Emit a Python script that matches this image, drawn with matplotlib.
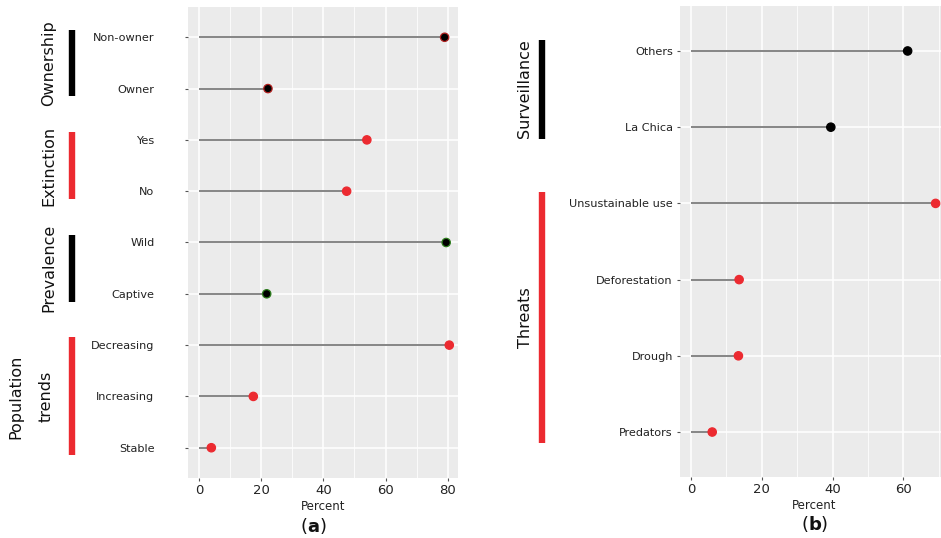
import matplotlib
matplotlib.use("Agg")
import matplotlib.pyplot as plt
from matplotlib.ticker import MultipleLocator
from matplotlib.transforms import blended_transform_factory

plt.rcParams['font.family'] = ['DejaVu Sans']
plt.rcParams['mathtext.fontset'] = 'dejavusans'

# ---- panel (a) data ----
a_labels = ["Non-owner", "Owner", "Yes", "No", "Wild", "Captive",
            "Decreasing", "Increasing", "Stable"]
a_values = [79.0, 22.2, 54.0, 47.5, 79.5, 21.8, 80.5, 17.5, 4.0]
a_groups = ["Ownership", "Ownership", "Extinction", "Extinction",
            "Prevalence", "Prevalence", "Population\ntrends",
            "Population\ntrends", "Population\ntrends"]

# ---- panel (b) data ----
b_labels = ["Others", "La Chica", "Unsustainable use", "Deforestation",
            "Drough", "Predators"]
b_values = [61.2, 39.5, 69.1, 13.6, 13.4, 6.0]
b_groups = ["Surveillance", "Surveillance", "Threats", "Threats",
            "Threats", "Threats"]

RED = "#EC2A30"
group_fill = {"Ownership": "black", "Extinction": RED, "Prevalence": "black",
              "Population\ntrends": RED, "Surveillance": "black", "Threats": RED}
group_edge = {"Ownership": "#B0201F", "Extinction": RED, "Prevalence": "#2E7D1E",
              "Population\ntrends": RED, "Surveillance": "black", "Threats": RED}

W, H = 941, 538
fig = plt.figure(figsize=(W / 100, H / 100), dpi=100)
fig.patch.set_facecolor("white")


def px_axes(x0, y0, x1, y1):
    return fig.add_axes([x0 / W, 1 - y1 / H, (x1 - x0) / W, (y1 - y0) / H])


def lollipop(ax, labels, values, groups, xlim, major, pad_lab,
             bar_x, text_x):
    n = len(labels)
    ys = [n - 1 - i for i in range(n)]
    ax.set_facecolor("#EBEBEB")
    for s in ax.spines.values():
        s.set_visible(False)
    ax.set_xlim(*xlim)
    ax.set_ylim(-0.59, n - 1 + 0.59)
    ax.xaxis.set_major_locator(MultipleLocator(major))
    ax.xaxis.set_minor_locator(MultipleLocator(major / 2))
    ax.set_yticks(ys)
    ax.set_yticklabels(labels)
    ax.grid(which="major", color="white", lw=1.1, zorder=0)
    ax.grid(which="minor", axis="x", color="white", lw=0.55, zorder=0)
    ax.set_axisbelow(True)
    ax.tick_params(axis="both", which="major", length=2.2, color="#555555",
                   labelcolor="#222222")
    ax.tick_params(axis="x", which="minor", length=0)
    ax.tick_params(axis="x", labelsize=9.5, pad=2)
    ax.tick_params(axis="y", labelsize=8.1, pad=pad_lab)

    ax.hlines(ys, 0, values, color="#858585", lw=1.4, zorder=2)
    ax.scatter(values, ys, s=36,
               c=[group_fill[g] for g in groups],
               edgecolors=[group_edge[g] for g in groups],
               linewidths=0.9, zorder=3, clip_on=False)
    ax.set_xlabel("Percent", fontsize=8.5, color="#222222", labelpad=2)

    # group brackets and titles on the left
    tr = blended_transform_factory(ax.transAxes, ax.transData)
    order = []
    for g in groups:
        if g not in order:
            order.append(g)
    for g in order:
        idx = [ys[i] for i in range(n) if groups[i] == g]
        top, bot = max(idx) + 0.15, min(idx) - 0.15
        colour = "black" if group_fill[g] == "black" else RED
        ax.plot([bar_x, bar_x], [bot, top], color=colour, lw=4.6,
                solid_capstyle="butt", transform=tr, clip_on=False)
        ax.text(text_x[g], (top + bot) / 2, g, rotation=90, ha="center",
                va="center", multialignment="center", fontsize=11.5,
                linespacing=2.2, color="#111111", transform=tr)


ax_a = px_axes(188, 7, 458, 478)
lollipop(ax_a, a_labels, a_values, a_groups, (-3.5, 83.3), 20, 22,
         (72 - 188) / 270,
         {"Ownership": (49 - 188) / 270, "Extinction": (49 - 188) / 270,
          "Prevalence": (49 - 188) / 270,
          "Population\ntrends": (31 - 188) / 270})

ax_b = px_axes(680, 6, 948, 477)
lollipop(ax_b, b_labels, b_values, b_groups, (-3.1, 72.6), 20, 3,
         (542 - 680) / 268,
         {"Surveillance": (525 - 680) / 268, "Threats": (525 - 680) / 268})

fig.text(313 / W, 1 - 526 / H, r"($\mathbf{a}$)", ha="center", va="center",
         fontsize=13, color="#111111")
fig.text(815 / W, 1 - 524 / H, r"($\mathbf{b}$)", ha="center", va="center",
         fontsize=13, color="#111111")

fig.savefig("out.png", dpi=100)
